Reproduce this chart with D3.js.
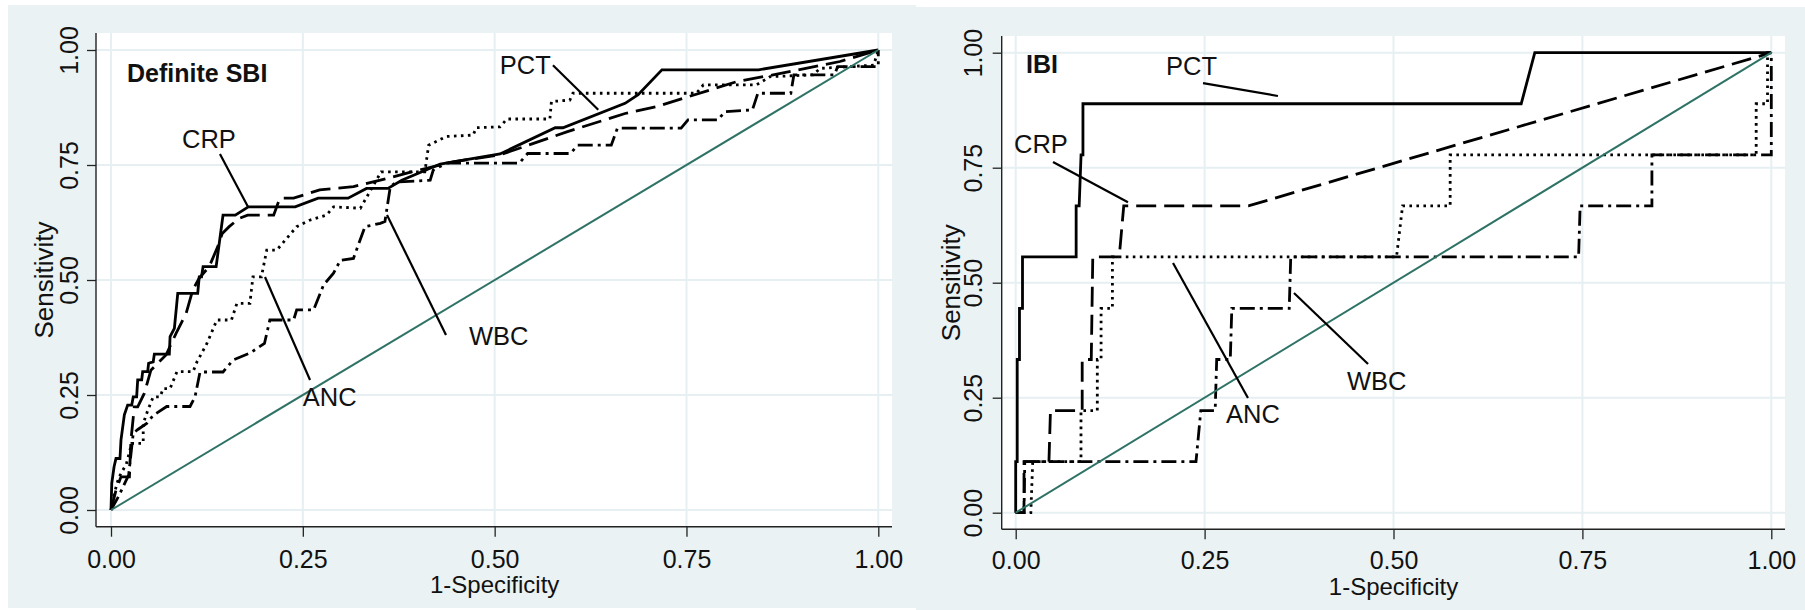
<!DOCTYPE html>
<html><head><meta charset="utf-8">
<script src="https://cdn.jsdelivr.net/npm/d3@7"></script>
<style>
body{margin:0;background:#fff}
svg{display:block}
text{font-family:"Liberation Sans",Arial,Helvetica,sans-serif;fill:#111}
</style>
</head><body>
<svg id="chart" width="1805" height="610"></svg>
<script>
// ---------------- data ----------------
const tickValues = [0, 0.25, 0.5, 0.75, 1];
const tickLabels = ["0.00", "0.25", "0.50", "0.75", "1.00"];
const markerNames = ["PCT", "CRP", "ANC", "WBC"];
const panelTitles = ["Definite SBI", "IBI"];
const xTitle = "1-Specificity";
const yTitle = "Sensitivity";

// Definite SBI: [1-specificity, sensitivity]
const sbiPCT = [[0,0],[0.001,0.058],[0.004,0.094],[0.0065,0.112],[0.0117,0.112],[0.013,0.152],[0.0174,0.207],[0.0217,0.228],[0.027,0.228],[0.029,0.246],[0.0334,0.246],[0.0348,0.283],[0.04,0.283],[0.0413,0.301],[0.0478,0.301],[0.049,0.319],[0.055,0.322],[0.0565,0.339],[0.076,0.339],[0.077,0.377],[0.0826,0.395],[0.087,0.471],[0.113,0.471],[0.115,0.507],[0.118,0.507],[0.12,0.529],[0.137,0.529],[0.146,0.641],[0.162,0.641],[0.179,0.659],[0.24,0.659],[0.27,0.678],[0.309,0.678],[0.333,0.699],[0.361,0.699],[0.379,0.717],[0.429,0.752],[0.507,0.774],[0.579,0.831],[0.589,0.831],[0.67,0.884],[0.687,0.903],[0.718,0.957],[0.844,0.957],[1,1]];
const sbiCRP = [[0,0],[0.0065,0.043],[0.013,0.072],[0.024,0.072],[0.026,0.152],[0.0304,0.224],[0.0348,0.224],[0.0435,0.254],[0.052,0.304],[0.0717,0.337],[0.0848,0.384],[0.098,0.428],[0.1065,0.478],[0.115,0.504],[0.128,0.529],[0.139,0.572],[0.145,0.601],[0.154,0.616],[0.167,0.634],[0.178,0.641],[0.212,0.641],[0.22,0.678],[0.238,0.678],[0.272,0.696],[0.316,0.703],[0.351,0.717],[0.394,0.736],[0.446,0.757],[0.507,0.772],[0.594,0.822],[0.67,0.862],[0.711,0.877],[0.815,0.931],[0.863,0.946],[0.95,0.975],[1,1]];
const sbiANC = [[0,0],[0.005,0.04],[0.01,0.07],[0.02,0.1],[0.027,0.145],[0.042,0.145],[0.042,0.188],[0.048,0.217],[0.055,0.246],[0.064,0.246],[0.068,0.264],[0.077,0.264],[0.086,0.301],[0.107,0.301],[0.112,0.322],[0.125,0.362],[0.138,0.413],[0.157,0.413],[0.164,0.449],[0.181,0.449],[0.185,0.507],[0.196,0.507],[0.203,0.565],[0.216,0.565],[0.242,0.616],[0.259,0.63],[0.281,0.641],[0.29,0.659],[0.325,0.656],[0.352,0.735],[0.409,0.735],[0.414,0.793],[0.437,0.812],[0.472,0.815],[0.476,0.831],[0.507,0.833],[0.516,0.85],[0.572,0.85],[0.574,0.888],[0.598,0.891],[0.602,0.906],[0.763,0.906],[0.772,0.924],[0.841,0.924],[0.859,0.942],[0.915,0.946],[0.924,0.96],[0.994,0.967],[1,1]];
const sbiWBC = [[0,0],[0.01,0.03],[0.023,0.076],[0.029,0.167],[0.035,0.175],[0.0465,0.188],[0.0552,0.206],[0.0726,0.225],[0.103,0.225],[0.1095,0.246],[0.116,0.3],[0.146,0.3],[0.159,0.326],[0.181,0.341],[0.2,0.362],[0.207,0.413],[0.238,0.413],[0.242,0.435],[0.264,0.435],[0.277,0.489],[0.29,0.515],[0.299,0.543],[0.316,0.547],[0.331,0.616],[0.351,0.623],[0.357,0.627],[0.364,0.703],[0.372,0.713],[0.416,0.717],[0.42,0.739],[0.437,0.754],[0.532,0.754],[0.543,0.775],[0.599,0.775],[0.608,0.793],[0.652,0.793],[0.66,0.83],[0.743,0.83],[0.752,0.848],[0.791,0.848],[0.8,0.866],[0.836,0.87],[0.843,0.906],[0.886,0.906],[0.89,0.946],[0.943,0.946],[0.947,0.964],[1,0.964],[1,1]];

// IBI
const ibiPCT = [[0,0],[0,0.111],[0.002,0.111],[0.002,0.333],[0.005,0.333],[0.005,0.444],[0.009,0.444],[0.009,0.556],[0.08,0.556],[0.08,0.667],[0.084,0.667],[0.0865,0.778],[0.089,0.778],[0.089,0.889],[0.669,0.889],[0.687,1],[1,1]];
const ibiCRP = [[0,0],[0.011,0],[0.011,0.111],[0.044,0.111],[0.046,0.222],[0.088,0.222],[0.088,0.333],[0.1,0.333],[0.102,0.556],[0.137,0.556],[0.143,0.667],[0.308,0.667],[1,1]];
const ibiANC = [[0,0],[0.02,0],[0.0225,0.111],[0.0864,0.111],[0.0864,0.222],[0.108,0.222],[0.108,0.333],[0.113,0.333],[0.113,0.444],[0.128,0.444],[0.128,0.556],[0.504,0.556],[0.512,0.667],[0.575,0.667],[0.575,0.778],[0.98,0.778],[0.98,0.889],[0.995,0.889],[0.995,1],[1,1]];
const ibiWBC = [[0,0],[0.011,0],[0.012,0.111],[0.2386,0.111],[0.245,0.222],[0.264,0.222],[0.266,0.333],[0.284,0.333],[0.286,0.444],[0.362,0.444],[0.364,0.556],[0.745,0.556],[0.747,0.667],[0.842,0.667],[0.842,0.778],[1,0.778],[1,1]];

// Labels: name, text anchor point [x,y], leader from -> to (data coordinates)
const sbiLabelText = [[0.5066,0.948],[0.0925,0.787],[0.250,0.226],[0.4666,0.3587]];
const sbiLeaderFrom = [[0.576,0.967],[0.142,0.774],[0.2007,0.5065],[0.3597,0.6413]];
const sbiLeaderTo = [[0.635,0.870],[0.1785,0.659],[0.2594,0.2826],[0.4366,0.3804]];
const sbiTitleAt = [0.0209,0.930];
const ibiLabelText = [[0.1989,0.9515],[-0.0022,0.7826],[0.2783,0.1957],[0.4384,0.2667]];
const ibiLeaderFrom = [[0.2479,0.934],[0.0494,0.7624],[0.2082,0.5428],[0.3683,0.4776]];
const ibiLeaderTo = [[0.3471,0.9059],[0.1486,0.675],[0.3074,0.2493],[0.4663,0.3233]];
const ibiTitleAt = [0.0136,0.9565];

// ---------------- layout / style ----------------
const dashStyles = [null, "20,8", "2.6,4.4", "15,5,3,5"];
const BG = "#eaf2f3", GRID = "#e6eff1", DIAG = "#2f7266";

const panels = [
  {title: panelTitles[0], titleAt: sbiTitleAt, series: [sbiPCT, sbiCRP, sbiANC, sbiWBC],
   labelAt: sbiLabelText, leadFrom: sbiLeaderFrom, leadTo: sbiLeaderTo,
   bg: [8, 5, 916, 608], plot: [96, 33, 892, 526.7], xr: [111, 878.3], yr: [510, 50],
   xTitleY: 593, yTitleX: 53, yLabDist: 18, xLabY: 568},
  {title: panelTitles[1], titleAt: ibiTitleAt, series: [ibiPCT, ibiCRP, ibiANC, ibiWBC],
   labelAt: ibiLabelText, leadFrom: ibiLeaderFrom, leadTo: ibiLeaderTo,
   bg: [916, 7, 1805, 610], plot: [1001.7, 36, 1785, 529.3], xr: [1015.7, 1771.3], yr: [512.7, 52.7],
   xTitleY: 595, yTitleX: 960, yLabDist: 20, xLabY: 569}
];

const svg = d3.select("#chart");

panels.forEach(p => {
  const g = svg.append("g");
  const x = d3.scaleLinear().domain([0, 1]).range(p.xr);
  const y = d3.scaleLinear().domain([0, 1]).range(p.yr);
  const [px0, py0, px1, py1] = p.plot;

  g.append("rect").attr("x", p.bg[0]).attr("y", p.bg[1])
    .attr("width", p.bg[2] - p.bg[0]).attr("height", p.bg[3] - p.bg[1]).attr("fill", BG);
  g.append("rect").attr("x", px0).attr("y", py0)
    .attr("width", px1 - px0).attr("height", py1 - py0).attr("fill", "#fff");

  // grid
  g.append("g").selectAll("line.h").data(tickValues).join("line")
    .attr("x1", px0).attr("x2", px1).attr("y1", d => y(d)).attr("y2", d => y(d))
    .attr("stroke", GRID).attr("stroke-width", 2);
  g.append("g").selectAll("line.v").data(tickValues).join("line")
    .attr("y1", py0).attr("y2", py1).attr("x1", d => x(d)).attr("x2", d => x(d))
    .attr("stroke", GRID).attr("stroke-width", 2);

  // axes
  const fmt = (d) => tickLabels[tickValues.indexOf(d)];
  const xa = g.append("g").attr("transform", `translate(0,${py1})`)
    .call(d3.axisBottom(x).tickValues(tickValues).tickFormat(fmt).tickSize(10).tickSizeOuter(0));
  xa.select(".domain").remove();
  xa.selectAll(".tick line").attr("stroke", "#222").attr("stroke-width", 1.3);
  xa.selectAll(".tick text").attr("y", p.xLabY - py1).attr("dy", 0)
    .attr("font-size", 25).attr("fill", "#111")
    .attr("font-family", '"Liberation Sans",Arial,sans-serif');

  const ya = g.append("g").attr("transform", `translate(${px0},0)`)
    .call(d3.axisLeft(y).tickValues(tickValues).tickFormat(fmt).tickSize(9).tickSizeOuter(0));
  ya.select(".domain").remove();
  ya.selectAll(".tick line").attr("stroke", "#222").attr("stroke-width", 1.3);
  ya.selectAll(".tick text").attr("x", 0).attr("y", -p.yLabDist).attr("dy", 0)
    .attr("transform", "rotate(-90)").attr("text-anchor", "middle")
    .attr("font-size", 25).attr("fill", "#111")
    .attr("font-family", '"Liberation Sans",Arial,sans-serif');

  g.append("line").attr("x1", px0).attr("x2", px0).attr("y1", py0).attr("y2", py1)
    .attr("stroke", "#222").attr("stroke-width", 1.4);
  g.append("line").attr("x1", px0).attr("x2", px1).attr("y1", py1).attr("y2", py1)
    .attr("stroke", "#222").attr("stroke-width", 1.4);

  // titles
  g.append("text").attr("x", (p.xr[0] + p.xr[1]) / 2).attr("y", p.xTitleY)
    .attr("text-anchor", "middle").attr("font-size", 24).text(xTitle);
  g.append("text").attr("transform", `translate(${p.yTitleX},${(p.yr[0] + p.yr[1]) / 2}) rotate(-90)`)
    .attr("text-anchor", "middle").attr("font-size", 26).text(yTitle);

  // curves
  const line = d3.line().x(d => x(d[0])).y(d => y(d[1]));
  p.series.forEach((s, i) => {
    g.append("path").datum(s).attr("d", line).attr("fill", "none")
      .attr("stroke", "#000").attr("stroke-width", 2.8)
      .attr("stroke-linejoin", "miter")
      .attr("stroke-dasharray", dashStyles[i]);
  });

  // diagonal reference
  g.append("path").datum([[0, 0], [1, 1]]).attr("d", line)
    .attr("stroke", DIAG).attr("stroke-width", 2).attr("fill", "none");

  // leader lines + labels
  markerNames.forEach((nm, i) => {
    g.append("line")
      .attr("x1", x(p.leadFrom[i][0])).attr("y1", y(p.leadFrom[i][1]))
      .attr("x2", x(p.leadTo[i][0])).attr("y2", y(p.leadTo[i][1]))
      .attr("stroke", "#000").attr("stroke-width", 2.2);
    g.append("text").attr("x", x(p.labelAt[i][0])).attr("y", y(p.labelAt[i][1]))
      .attr("font-size", 25.5).text(nm);
  });

  g.append("text").attr("x", x(p.titleAt[0])).attr("y", y(p.titleAt[1]))
    .attr("font-size", 25).attr("font-weight", "bold").text(p.title);
});
</script>
</body></html>
